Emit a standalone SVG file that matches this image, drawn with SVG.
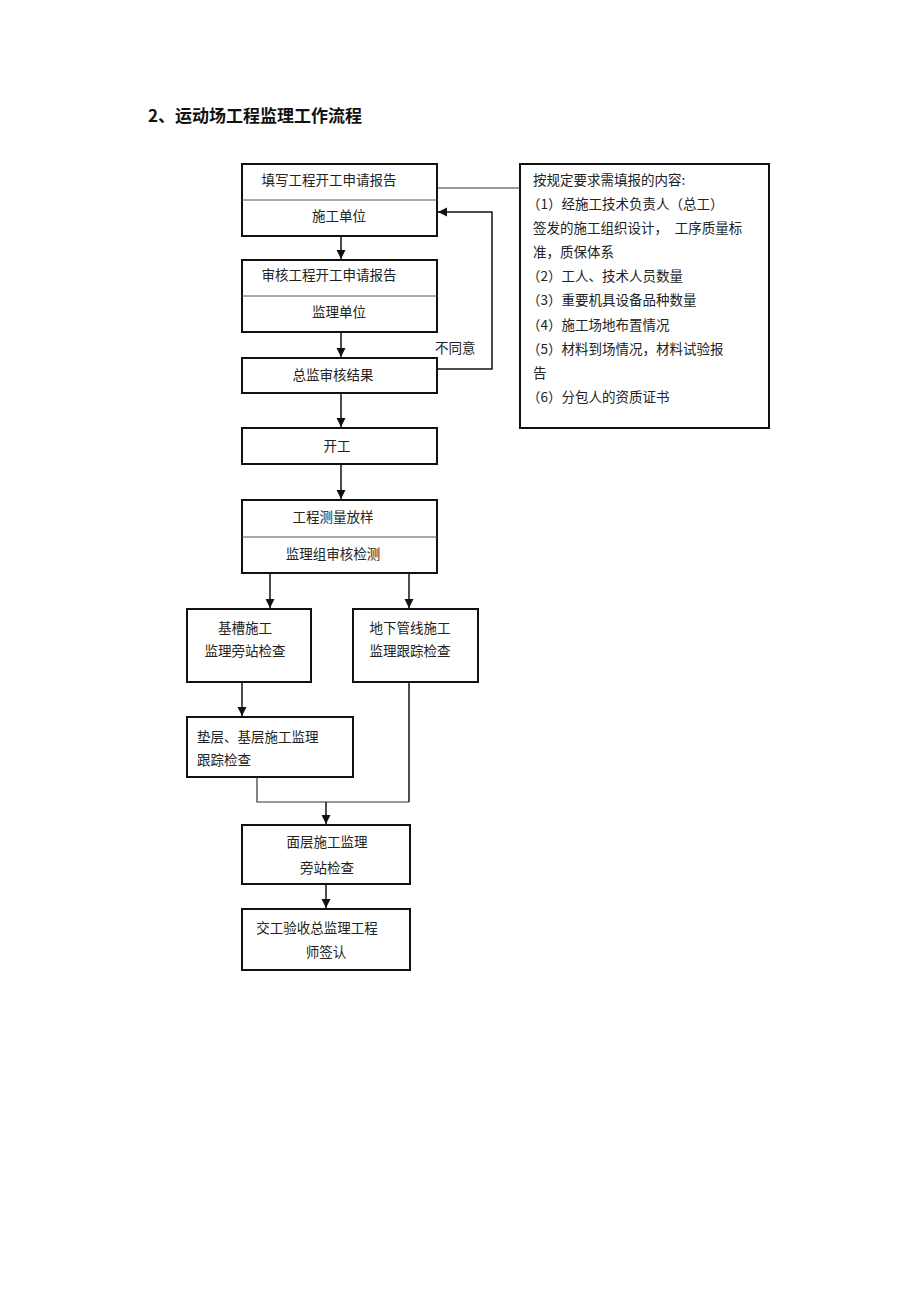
<svg xmlns="http://www.w3.org/2000/svg" width="920" height="1303" viewBox="0 0 920 1303">
<defs>
<marker id="arr" markerWidth="10" markerHeight="10" refX="9" refY="5" orient="auto" markerUnits="userSpaceOnUse">
<path d="M0,0.5 L9,5 L0,9.5 Z" fill="#111"/>
</marker>
</defs>
<style>
.box{fill:#fff;stroke:#111;stroke-width:2}
.div{stroke:#555;stroke-width:1}
.t{font-family:"Noto Sans CJK SC","Liberation Serif",serif;font-size:13.5px;fill:#222}
.c{text-anchor:middle}
.ln{fill:none;stroke:#111;stroke-width:1.5}
.ln2{fill:none;stroke:#333;stroke-width:1.2}
</style>
<rect width="920" height="1303" fill="#fff"/>
<text x="148" y="122" font-family="Noto Sans CJK SC, sans-serif" font-size="17" font-weight="bold" fill="#111">2、运动场工程监理工作流程</text>

<g id="n1">
<rect class="box" x="242" y="164" width="195" height="72"/>
<line class="div" x1="242" y1="200" x2="437" y2="200"/>
<text class="t c" x="329" y="185">填写工程开工申请报告</text>
<text class="t c" x="339" y="221">施工单位</text>
</g>
<g id="n2">
<rect class="box" x="242" y="260" width="195" height="72"/>
<line class="div" x1="242" y1="296" x2="437" y2="296"/>
<text class="t c" x="329" y="280">审核工程开工申请报告</text>
<text class="t c" x="339" y="317">监理单位</text>
</g>
<g id="n3">
<rect class="box" x="242" y="358" width="195" height="35"/>
<text class="t c" x="333" y="380">总监审核结果</text>
</g>
<g id="n4">
<rect class="box" x="242" y="428" width="195" height="36"/>
<text class="t c" x="337" y="451">开工</text>
</g>
<g id="n5">
<rect class="box" x="242" y="500" width="195" height="73"/>
<line class="div" x1="242" y1="537" x2="437" y2="537"/>
<text class="t c" x="333" y="522">工程测量放样</text>
<text class="t c" x="333" y="559">监理组审核检测</text>
</g>
<g id="n6">
<rect class="box" x="187" y="609" width="124" height="73"/>
<text class="t c" x="245" y="633">基槽施工</text>
<text class="t c" x="245" y="656">监理旁站检查</text>
</g>
<g id="n7">
<rect class="box" x="353" y="609" width="125" height="73"/>
<text class="t c" x="410" y="633">地下管线施工</text>
<text class="t c" x="410" y="656">监理跟踪检查</text>
</g>
<g id="n8">
<rect class="box" x="187" y="717" width="166" height="60"/>
<text class="t" x="197" y="742">垫层、基层施工监理</text>
<text class="t" x="197" y="765">跟踪检查</text>
</g>
<g id="n9">
<rect class="box" x="242" y="825" width="168" height="59"/>
<text class="t c" x="327" y="847">面层施工监理</text>
<text class="t c" x="327" y="873">旁站检查</text>
</g>
<g id="n10">
<rect class="box" x="242" y="909" width="168" height="61"/>
<text class="t c" x="317" y="933">交工验收总监理工程</text>
<text class="t c" x="326" y="957">师签认</text>
</g>
<g id="note">
<rect class="box" x="520" y="164" width="249" height="264"/>
<text class="t" x="533" y="185">按规定要求需填报的内容:</text>
<text class="t" x="527" y="209">（1）经施工技术负责人（总工）</text>
<text class="t" x="533" y="233">签发的施工组织设计，　工序质量标</text>
<text class="t" x="533" y="257">准，质保体系</text>
<text class="t" x="527" y="281">（2）工人、技术人员数量</text>
<text class="t" x="527" y="305">（3）重要机具设备品种数量</text>
<text class="t" x="527" y="330">（4）施工场地布置情况</text>
<text class="t" x="527" y="354">（5）材料到场情况，材料试验报</text>
<text class="t" x="533" y="378">告</text>
<text class="t" x="527" y="402">（6）分包人的资质证书</text>
</g>

<g id="connectors">
<line class="ln2" x1="437" y1="188" x2="520" y2="188"/>
<line class="ln" x1="341" y1="236" x2="341" y2="259" marker-end="url(#arr)"/>
<line class="ln" x1="341" y1="332" x2="341" y2="357" marker-end="url(#arr)"/>
<polyline class="ln" points="437,369 492,369 492,212 438,212" marker-end="url(#arr)"/>
<text class="t" x="435" y="353">不同意</text>
<line class="ln" x1="341" y1="393" x2="341" y2="427" marker-end="url(#arr)"/>
<line class="ln" x1="341" y1="464" x2="341" y2="499" marker-end="url(#arr)"/>
<line class="ln" x1="270" y1="573" x2="270" y2="608" marker-end="url(#arr)"/>
<line class="ln" x1="409" y1="573" x2="409" y2="608" marker-end="url(#arr)"/>
<line class="ln" x1="242" y1="682" x2="242" y2="716" marker-end="url(#arr)"/>
<polyline class="ln2" points="257,777 257,802 409,802"/>
<line class="ln" x1="409" y1="682" x2="409" y2="802"/>
<line class="ln" x1="326" y1="802" x2="326" y2="824" marker-end="url(#arr)"/>
<line class="ln" x1="326" y1="884" x2="326" y2="908" marker-end="url(#arr)"/>
</g>
</svg>
